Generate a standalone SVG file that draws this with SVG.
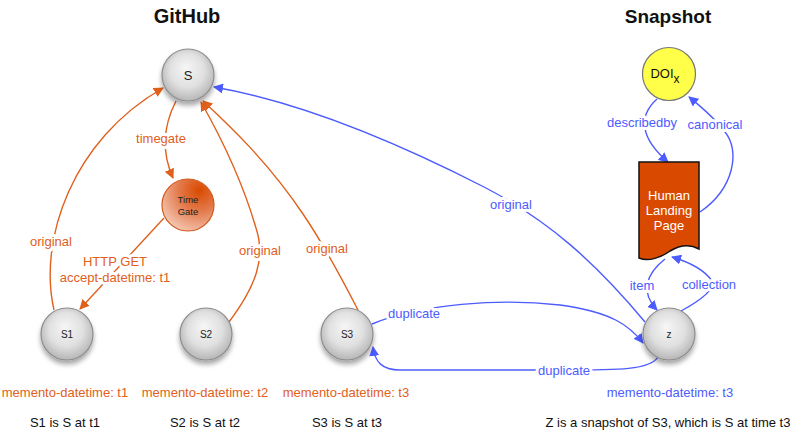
<svg xmlns="http://www.w3.org/2000/svg" width="796" height="436" viewBox="0 0 796 436">
<defs>
  <radialGradient id="gray" cx="0.5" cy="0.45" r="0.55" fx="0.45" fy="0.35">
    <stop offset="0" stop-color="#f6f6f6"/>
    <stop offset="0.6" stop-color="#e0e0e0"/>
    <stop offset="1" stop-color="#b6b6b6"/>
  </radialGradient>
  <radialGradient id="tg" cx="0.72" cy="0.22" r="0.9" fx="0.72" fy="0.22">
    <stop offset="0" stop-color="#d94a00"/>
    <stop offset="0.45" stop-color="#e37a4c"/>
    <stop offset="1" stop-color="#f6cfbd"/>
  </radialGradient>
  <filter id="sh" x="-30%" y="-30%" width="160%" height="170%">
    <feGaussianBlur in="SourceAlpha" stdDeviation="2.5"/>
    <feOffset dy="4" result="b"/>
    <feComponentTransfer><feFuncA type="linear" slope="0.35"/></feComponentTransfer>
    <feMerge><feMergeNode/><feMergeNode in="SourceGraphic"/></feMerge>
  </filter>
  <marker id="ao" viewBox="0 0 10 10" refX="9" refY="5" markerWidth="10" markerHeight="10" markerUnits="userSpaceOnUse" orient="auto">
    <path d="M0,0 L10,5 L0,10 z" fill="#e0601c"/>
  </marker>
  <marker id="ab" viewBox="0 0 10 10" refX="9" refY="5" markerWidth="10" markerHeight="10" markerUnits="userSpaceOnUse" orient="auto">
    <path d="M0,0 L10,5 L0,10 z" fill="#4d5cff"/>
  </marker>
</defs>
<style>
  text { font-family: "Liberation Sans", Arial, sans-serif; }
  .title { font-weight: bold; fill: #111; text-anchor: middle; }
  .sphere { fill: url(#gray); stroke: #8c8c8c; stroke-width: 1.2; filter: url(#sh); }
  .nl { font-size: 10px; fill: #222; text-anchor: middle; }
  .big { font-size: 13px; }
  .tgl { font-size: 9.5px; }
  .eo { fill: none; stroke: #e0601c; stroke-width: 1.4; }
  .eb { fill: none; stroke: #4d5cff; stroke-width: 1.4; }
  .lo { font-size: 13px; fill: #e0601c; text-anchor: middle; stroke: #fff; stroke-width: 6; paint-order: stroke; stroke-linejoin: round; }
  .lb { font-size: 13px; fill: #4d5cff; text-anchor: middle; stroke: #fff; stroke-width: 6; paint-order: stroke; stroke-linejoin: round; }
  .cap { font-size: 13px; fill: #111; text-anchor: middle; }
  .mo { font-size: 13px; fill: #e0601c; text-anchor: middle; }
  .mb { font-size: 13px; fill: #4d5cff; text-anchor: middle; }
  .hlp { font-size: 13px; fill: #fff; text-anchor: middle; }
</style>
<rect width="796" height="436" fill="#fff"/>

<text class="title" x="187" y="23" font-size="20">GitHub</text>
<text class="title" x="668" y="23" font-size="19">Snapshot</text>

<g id="connectors">
  <path class="eo" d="M54,310 C38,240 72,140 163,88" marker-end="url(#ao)"/>
  <path class="eo" d="M176,101 Q156,140 173,178" marker-end="url(#ao)"/>
  <path class="eo" d="M164,218 L80,309" marker-end="url(#ao)"/>
  <path class="eo" d="M229,322 C256,286 266,258 256,228 C242,180 218,132 201,102" marker-end="url(#ao)"/>
  <path class="eo" d="M358,310 C340,275 322,242 303,214 C268,162 230,126 203,101" marker-end="url(#ao)"/>
  <path class="eb" d="M645,322 C595,262 548,220 484,187 C400,144 300,102 214,87" marker-end="url(#ab)"/>
  <path class="eb" d="M372,324 C420,304 500,298 560,305 C612,312 630,326 643,343" marker-end="url(#ab)"/>
  <path class="eb" d="M658,357 C650,370 620,370 560,370 L400,370 C382,370 375,362 373,347" marker-end="url(#ab)"/>
  <path class="eb" d="M657,99 C638,116 640,138 668,162" marker-end="url(#ab)"/>
  <path class="eb" d="M700,212 C735,188 740,150 725,132 C715,118 700,106 689,97" marker-end="url(#ab)"/>
  <path class="eb" d="M681,311 Q716,292 712,281 Q702,266 672,257" marker-end="url(#ab)"/>
  <path class="eb" d="M665,259 C646,274 640,292 657,310" marker-end="url(#ab)"/>

  <text class="lo" x="51" y="246">original</text>
  <text class="lo" x="161" y="143">timegate</text>
  <text class="lo" x="115" y="266">HTTP GET</text>
  <text class="lo" x="115" y="282">accept-datetime: t1</text>
  <text class="lo" x="260" y="255">original</text>
  <text class="lo" x="327" y="253">original</text>
  <text class="lb" x="511" y="209">original</text>
  <text class="lb" x="414" y="318">duplicate</text>
  <text class="lb" x="564" y="375">duplicate</text>
  <text class="lb" x="642" y="127">describedby</text>
  <text class="lb" x="715" y="129">canonical</text>
  <text class="lb" x="709" y="289">collection</text>
  <text class="lb" x="642" y="290">item</text>
</g>

<g id="S">
  <circle class="sphere" cx="188" cy="75" r="26"/>
  <text class="nl big" x="188" y="80">S</text>
</g>
<g id="TimeGate">
  <circle cx="188" cy="205" r="26" fill="url(#tg)" stroke="#d2581e" stroke-width="1.2"/>
  <text class="nl tgl" x="188" y="203">Time</text>
  <text class="nl tgl" x="188" y="215">Gate</text>
</g>
<g id="S1">
  <circle class="sphere" cx="67" cy="334" r="26"/>
  <text class="nl" x="67" y="338">S1</text>
</g>
<g id="S2">
  <circle class="sphere" cx="206" cy="334" r="26"/>
  <text class="nl" x="206" y="338">S2</text>
</g>
<g id="S3">
  <circle class="sphere" cx="347" cy="334" r="26"/>
  <text class="nl" x="347" y="338">S3</text>
</g>
<g id="Z">
  <circle class="sphere" cx="669" cy="334" r="26"/>
  <text class="nl" x="669" y="338">z</text>
</g>
<g id="DOI">
  <circle cx="669" cy="74" r="26.5" fill="#ffff4a" stroke="#777" stroke-width="1.2"/>
  <text x="665" y="78" font-size="13" fill="#111" text-anchor="middle">DOI<tspan font-size="12" dy="5">x</tspan></text>
</g>
<g id="HLP">
  <path d="M639,162 H699 V249 C690,244 680,245 670,251 C660,258 648,262 639,258 Z" fill="#d94a00" stroke="#111" stroke-width="1.5"/>
  <text class="hlp" x="669" y="200">Human</text>
  <text class="hlp" x="669" y="215">Landing</text>
  <text class="hlp" x="669" y="230">Page</text>
</g>

<g id="captions">
  <text class="mo" x="65" y="397">memento-datetime: t1</text>
  <text class="mo" x="205" y="397">memento-datetime: t2</text>
  <text class="mo" x="346" y="397">memento-datetime: t3</text>
  <text class="mb" x="670" y="397">memento-datetime: t3</text>
  <text class="cap" x="65" y="427">S1 is S at t1</text>
  <text class="cap" x="205" y="427">S2 is S at t2</text>
  <text class="cap" x="347" y="427">S3 is S at t3</text>
  <text class="cap" x="668" y="427">Z is a snapshot of S3, which is S at time t3</text>
</g>
</svg>
